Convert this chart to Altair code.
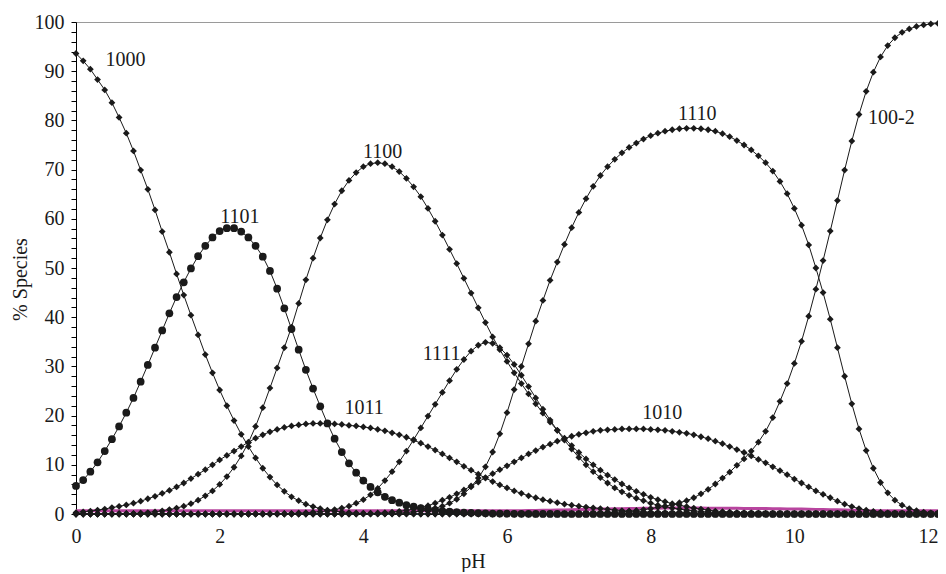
import altair as alt
import pandas as pd

# pH grid (0.0 .. 12.0 step 0.1)
PH = [round(i * 0.1, 1) for i in range(121)]

s_1000 = [
    93.6, 92.1, 90.4, 88.3, 86.2, 83.6, 80.6, 77.4, 73.8, 69.9,
    66.0, 61.8, 57.4, 53.2, 48.8, 44.5, 40.4, 36.4, 32.4, 28.7,
    25.2, 22.0, 19.0, 16.2, 13.7, 11.4, 9.3, 7.5, 5.9, 4.6,
    3.5, 2.7, 2.0, 1.5, 1.1, 0.8, 0.6, 0.4, 0.3, 0.2,
    0.15, 0.1, 0.07, 0.05, 0.03, 0.02, 0.01, 0.01, 0, 0,
    0, 0, 0, 0, 0, 0, 0, 0, 0, 0,
    0, 0, 0, 0, 0, 0, 0, 0, 0, 0,
    0, 0, 0, 0, 0, 0, 0, 0, 0, 0,
    0, 0, 0, 0, 0, 0, 0, 0, 0, 0,
    0, 0, 0, 0, 0, 0, 0, 0, 0, 0,
    0, 0, 0, 0, 0, 0, 0, 0, 0, 0,
    0, 0, 0, 0, 0, 0, 0, 0, 0, 0,
    0,
]

s_1101 = [
    5.7, 6.9, 8.6, 10.5, 12.8, 15.2, 17.8, 20.6, 23.6, 26.9,
    30.3, 33.8, 37.3, 40.8, 44.1, 47.1, 49.9, 52.4, 54.5, 56.2,
    57.5, 58.1, 58.1, 57.4, 56.2, 54.5, 52.3, 49.4, 45.8, 41.8,
    37.6, 33.4, 29.3, 25.5, 21.9, 18.4, 15.3, 12.6, 10.3, 8.4,
    6.8, 5.5, 4.4, 3.5, 2.8, 2.3, 1.8, 1.5, 1.2, 1.0,
    0.8, 0.6, 0.5, 0.4, 0.3, 0.25, 0.2, 0.15, 0.1, 0.08,
    0.06, 0.05, 0.04, 0.03, 0.02, 0.02, 0.01, 0.01, 0, 0,
    0, 0, 0, 0, 0, 0, 0, 0, 0, 0,
    0, 0, 0, 0, 0, 0, 0, 0, 0, 0,
    0, 0, 0, 0, 0, 0, 0, 0, 0, 0,
    0, 0, 0, 0, 0, 0, 0, 0, 0, 0,
    0, 0, 0, 0, 0, 0, 0, 0, 0, 0,
    0,
]

s_1100 = [
    0, 0, 0.01, 0.02, 0.03, 0.05, 0.07, 0.1, 0.14, 0.2,
    0.3, 0.45, 0.65, 0.9, 1.2, 1.6, 2.1, 2.8, 3.7, 4.7,
    6.0, 7.6, 9.5, 11.8, 14.5, 17.8, 21.6, 25.6, 29.7, 33.8,
    38.0, 42.8, 47.6, 52.0, 56.1, 59.8, 63.0, 65.7, 67.8, 69.4,
    70.6, 71.2, 71.4, 71.2, 70.6, 69.6, 68.2, 66.5, 64.5, 62.1,
    59.5, 56.7, 53.8, 50.9, 47.9, 44.9, 41.9, 38.9, 36.0, 33.4,
    31.0, 28.7, 26.5, 24.4, 22.4, 20.5, 18.7, 17.0, 15.4, 13.9,
    12.5, 11.2, 10.0, 8.9, 7.9, 7.0, 6.1, 5.3, 4.6, 4.0,
    3.4, 2.9, 2.5, 2.1, 1.8, 1.5, 1.2, 1.0, 0.8, 0.6,
    0.5, 0.4, 0.3, 0.25, 0.2, 0.15, 0.1, 0.08, 0.06, 0.05,
    0.04, 0.03, 0.02, 0.01, 0.01, 0, 0, 0, 0, 0,
    0, 0, 0, 0, 0, 0, 0, 0, 0, 0,
    0,
]

s_1011 = [
    0.3, 0.45, 0.6, 0.8, 1.0, 1.3, 1.55, 1.85, 2.2, 2.6,
    3.1, 3.6, 4.2, 4.8, 5.5, 6.3, 7.2, 8.1, 9.0, 10.0,
    11.0, 11.9, 12.8, 13.7, 14.6, 15.4, 16.1, 16.7, 17.2, 17.6,
    17.9, 18.1, 18.3, 18.4, 18.4, 18.4, 18.3, 18.2, 18.0, 17.9,
    17.7, 17.5, 17.2, 16.9, 16.5, 16.1, 15.6, 15.0, 14.4, 13.7,
    13.0, 12.2, 11.4, 10.6, 9.7, 8.9, 8.1, 7.3, 6.6, 5.9,
    5.3, 4.7, 4.2, 3.7, 3.3, 2.9, 2.6, 2.3, 2.0, 1.8,
    1.6, 1.4, 1.25, 1.1, 0.95, 0.8, 0.7, 0.6, 0.5, 0.42,
    0.35, 0.3, 0.25, 0.2, 0.17, 0.14, 0.11, 0.09, 0.07, 0.06,
    0.05, 0.04, 0.03, 0.02, 0.02, 0.01, 0.01, 0, 0, 0,
    0, 0, 0, 0, 0, 0, 0, 0, 0, 0,
    0, 0, 0, 0, 0, 0, 0, 0, 0, 0,
    0,
]

s_1111 = [
    0, 0, 0, 0, 0, 0, 0, 0, 0, 0,
    0, 0, 0, 0, 0, 0, 0, 0, 0, 0,
    0, 0, 0, 0, 0, 0.02, 0.03, 0.05, 0.07, 0.1,
    0.14, 0.2, 0.27, 0.36, 0.48, 0.65, 0.9, 1.2, 1.6, 2.2,
    2.9, 3.9, 5.2, 6.8, 8.6, 10.6, 12.8, 15.1, 17.5, 19.9,
    22.3, 24.7, 27.1, 29.4, 31.4, 33.1, 34.3, 34.9, 34.7, 33.8,
    32.3, 30.4, 28.2, 25.9, 23.6, 21.3, 19.1, 17.0, 15.0, 13.2,
    11.5, 10.0, 8.6, 7.4, 6.3, 5.3, 4.5, 3.8, 3.2, 2.7,
    2.2, 1.8, 1.5, 1.2, 1.0, 0.8, 0.65, 0.5, 0.4, 0.3,
    0.25, 0.2, 0.15, 0.12, 0.1, 0.08, 0.06, 0.05, 0.04, 0.03,
    0.02, 0.01, 0, 0, 0, 0, 0, 0, 0, 0,
    0, 0, 0, 0, 0, 0, 0, 0, 0, 0,
    0,
]

s_1110 = [
    0, 0, 0, 0, 0, 0, 0, 0, 0, 0,
    0, 0, 0, 0, 0, 0, 0, 0, 0, 0,
    0, 0, 0, 0, 0, 0, 0, 0, 0, 0,
    0, 0, 0, 0, 0, 0, 0, 0, 0.01, 0.02,
    0.03, 0.05, 0.07, 0.1, 0.14, 0.2, 0.3, 0.42, 0.6, 0.85,
    1.15, 1.6, 2.2, 3.0, 4.1, 5.5, 7.3, 9.6, 12.6, 16.3,
    20.6, 25.3, 30.0, 34.6, 39.2, 43.4, 47.5, 51.2, 54.8, 58.2,
    61.3, 64.1, 66.6, 68.8, 70.6, 72.1, 73.4, 74.5, 75.4, 76.2,
    76.9, 77.4, 77.8, 78.1, 78.3, 78.4, 78.4, 78.3, 78.1, 77.8,
    77.3, 76.7, 75.9, 75.0, 74.0, 72.8, 71.4, 69.7, 67.6, 65.1,
    62.1, 58.7, 54.7, 50.0, 45.0, 39.6, 33.8, 28.0, 22.4, 17.3,
    12.9, 9.3, 6.4, 4.3, 2.8, 1.8, 1.1, 0.7, 0.4, 0.25,
    0.15,
]

s_1010 = [
    0, 0, 0, 0, 0, 0, 0, 0, 0, 0,
    0, 0, 0, 0, 0, 0, 0, 0, 0, 0,
    0, 0, 0, 0, 0, 0, 0, 0, 0, 0,
    0, 0, 0, 0, 0, 0, 0, 0, 0, 0,
    0.1, 0.15, 0.2, 0.3, 0.4, 0.55, 0.75, 1.0, 1.3, 1.7,
    2.2, 2.8, 3.4, 4.1, 4.9, 5.7, 6.5, 7.4, 8.2, 9.0,
    9.8, 10.6, 11.4, 12.2, 12.9, 13.6, 14.2, 14.8, 15.3, 15.8,
    16.2, 16.5, 16.8, 17.0, 17.1, 17.2, 17.3, 17.3, 17.3, 17.3,
    17.2, 17.1, 17.0, 16.8, 16.6, 16.4, 16.1, 15.7, 15.3, 14.8,
    14.3, 13.7, 13.1, 12.5, 11.8, 11.1, 10.4, 9.6, 8.8, 8.0,
    7.1, 6.3, 5.5, 4.7, 4.0, 3.3, 2.6, 2.0, 1.5, 1.1,
    0.8, 0.55, 0.38, 0.25, 0.16, 0.1, 0.06, 0.04, 0.02, 0.01,
    0,
]

s_100m2 = [
    0, 0, 0, 0, 0, 0, 0, 0, 0, 0,
    0, 0, 0, 0, 0, 0, 0, 0, 0, 0,
    0, 0, 0, 0, 0, 0, 0, 0, 0, 0,
    0, 0, 0, 0, 0, 0, 0, 0, 0, 0,
    0, 0, 0, 0, 0, 0, 0, 0, 0, 0,
    0, 0, 0, 0, 0, 0, 0, 0, 0, 0,
    0, 0, 0, 0, 0, 0.02, 0.03, 0.04, 0.06, 0.08,
    0.1, 0.13, 0.17, 0.22, 0.28, 0.36, 0.46, 0.58, 0.73, 0.9,
    1.1, 1.35, 1.6, 1.9, 2.3, 2.7, 3.3, 4.1, 5.0, 6.1,
    7.3, 8.5, 9.9, 11.2, 12.8, 14.6, 16.8, 19.6, 22.9, 26.5,
    30.6, 35.1, 40.2, 45.7, 51.5, 57.5, 63.7, 69.9, 75.8, 81.2,
    85.9, 89.8, 92.9, 95.2, 96.8, 97.9, 98.6, 99.1, 99.4, 99.6,
    99.7,
]

s_magenta = [
    0.65, 0.65, 0.65, 0.65, 0.65, 0.65, 0.65, 0.65, 0.65, 0.65,
    0.65, 0.65, 0.65, 0.65, 0.65, 0.65, 0.65, 0.65, 0.65, 0.65,
    0.65, 0.65, 0.65, 0.65, 0.65, 0.65, 0.65, 0.65, 0.65, 0.65,
    0.65, 0.65, 0.65, 0.65, 0.65, 0.65, 0.65, 0.65, 0.65, 0.65,
    0.65, 0.65, 0.65, 0.65, 0.65, 0.65, 0.65, 0.65, 0.65, 0.65,
    0.65, 0.65, 0.65, 0.65, 0.65, 0.65, 0.65, 0.65, 0.65, 0.65,
    0.66, 0.67, 0.68, 0.7, 0.72, 0.74, 0.77, 0.8, 0.83, 0.86,
    0.9, 0.93, 0.96, 1.0, 1.03, 1.06, 1.09, 1.12, 1.14, 1.16,
    1.18, 1.19, 1.2, 1.2, 1.2, 1.2, 1.2, 1.2, 1.19, 1.18,
    1.17, 1.16, 1.15, 1.14, 1.13, 1.12, 1.1, 1.08, 1.06, 1.04,
    1.02, 1.0, 0.97, 0.94, 0.91, 0.88, 0.84, 0.8, 0.76, 0.72,
    0.68, 0.66, 0.65, 0.65, 0.65, 0.65, 0.65, 0.65, 0.65, 0.65,
    0.65,
]

s_cyan = [
    0, 0, 0, 0, 0, 0, 0, 0, 0, 0,
    0, 0, 0, 0, 0, 0, 0, 0, 0, 0,
    0, 0, 0, 0, 0, 0, 0, 0, 0, 0,
    0, 0, 0, 0, 0, 0, 0, 0, 0, 0,
    0, 0, 0, 0, 0, 0, 0, 0, 0, 0,
    0, 0, 0, 0, 0, 0, 0, 0, 0, 0,
    0, 0, 0, 0, 0, 0, 0, 0, 0, 0,
    0, 0, 0, 0, 0, 0, 0, 0, 0, 0,
    0, 0, 0, 0, 0, 0, 0, 0, 0, 0,
    0, 0, 0, 0, 0, 0, 0, 0, 0, 0,
    0, 0, 0, 0, 0, 0, 0, 0, 0, 0,
    0, 0, 0, 0, 0, 0, 0, 0, 0, 0,
    0,
]

# curve labels
label_text = ["1000", "1101", "1100", "1011", "1111", "1110", "1010", "100-2"]
label_ph = [0.69, 2.28, 4.27, 4.01, 5.09, 8.65, 8.16, 11.35]
label_pct = [92.3, 60.4, 73.6, 21.5, 32.6, 81.3, 20.6, 80.5]

main_series = {
    "1000": s_1000, "1101": s_1101, "1100": s_1100, "1011": s_1011,
    "1111": s_1111, "1110": s_1110, "1010": s_1010, "100-2": s_100m2,
}

rows = []
for name, vals in main_series.items():
    for p, v in zip(PH, vals):
        rows.append({"pH": p, "pct": v, "series": name})
df = pd.DataFrame(rows)
df_mag = pd.DataFrame({"pH": PH, "pct": s_magenta})
df_cyan = pd.DataFrame({"pH": PH, "pct": s_cyan})
df_lab = pd.DataFrame({"pH": label_ph, "pct": label_pct, "text": label_text})

FONT = "Liberation Serif"
INK = "#1a1a1a"

x_enc = alt.X(
    "pH:Q",
    scale=alt.Scale(domain=[0, 12], nice=False, zero=False),
    axis=alt.Axis(
        values=[0, 2, 4, 6, 8, 10, 12], ticks=False, grid=False,
        labelFlush=False, labelPadding=12, domainColor="black",
        labelAlign={"condition": {"test": "datum.value >= 12", "value": "right"},
                    "value": "center"},
        title="pH", titleX=397, titleY=53, titleBaseline="alphabetic",
    ),
)
y_enc = alt.Y(
    "pct:Q",
    scale=alt.Scale(domain=[0, 100], nice=False),
    axis=alt.Axis(
        values=list(range(0, 101, 2)),
        labelExpr="datum.value % 10 === 0 ? datum.label : ''",
        labelOverlap=False, labelFlush=False, grid=False,
        tickSize=5, tickColor="black", domainColor="black", labelPadding=7,
        title="% Species", titleX=-46, titleY=257,
    ),
)

cyan = alt.Chart(df_cyan).mark_line(
    color="#5ec4dc", strokeWidth=2, strokeDash=[2, 2]
).encode(x=x_enc, y=y_enc)

mag = alt.Chart(df_mag).mark_line(
    color="#b8459f", strokeWidth=3
).encode(x=x_enc, y=y_enc)

lines = alt.Chart(df).mark_line(color=INK, strokeWidth=1).encode(
    x=x_enc, y=y_enc, detail="series:N"
)

diamonds = alt.Chart(df).transform_filter(
    alt.datum.series != "1101"
).mark_point(shape="diamond", filled=True, size=46, color=INK, opacity=1).encode(
    x=x_enc, y=y_enc, detail="series:N"
)

circles = alt.Chart(df).transform_filter(
    alt.datum.series == "1101"
).mark_point(shape="circle", filled=True, size=60, color=INK, opacity=1).encode(
    x=x_enc, y=y_enc
)

labels = alt.Chart(df_lab).mark_text(
    font=FONT, fontSize=20, color=INK, align="center", baseline="middle"
).encode(x=x_enc, y=y_enc, text="text:N")

chart = alt.layer(cyan, mag, lines, diamonds, circles, labels).properties(
    width=862,
    height=492,
    background="white",
    autosize=alt.AutoSizeParams(type="none"),
    padding={"left": 68, "top": 14, "right": 0, "bottom": 58},
).configure_view(
    stroke="#9a9a9a", strokeWidth=1
).configure_axis(
    labelFont=FONT, titleFont=FONT, labelFontSize=20, titleFontSize=20,
    labelColor=INK, titleColor=INK, titleFontWeight="normal",
)

chart.save("out.html", embed_options={"renderer": "svg", "actions": False})
